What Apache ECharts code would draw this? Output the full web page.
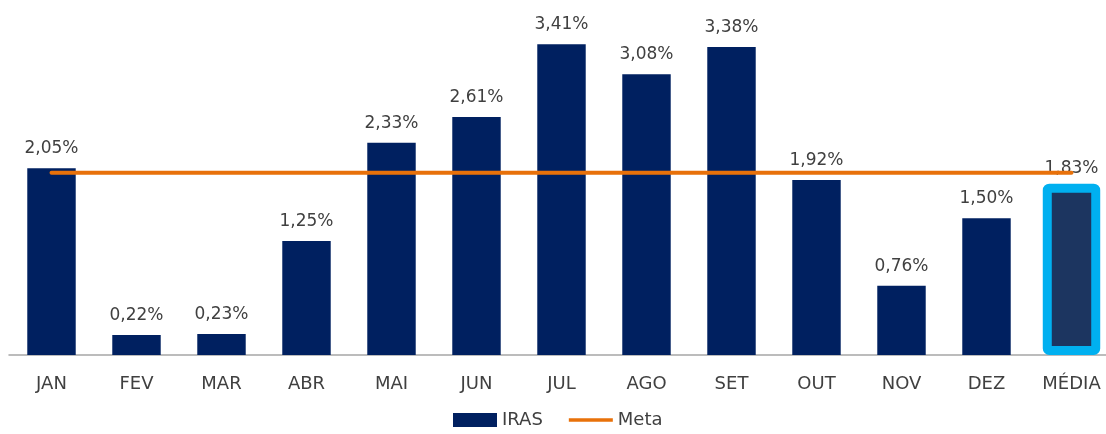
<!DOCTYPE html>
<html><head><meta charset="utf-8">
<script src="https://cdn.jsdelivr.net/npm/echarts@6/dist/echarts.min.js"></script>
<style>html,body{margin:0;padding:0;background:#fff;overflow:hidden}#c{width:1114px;height:434px}</style>
</head><body><div id="c"></div>
<script>
const categories = ['JAN','FEV','MAR','ABR','MAI','JUN','JUL','AGO','SET','OUT','NOV','DEZ','MÉDIA'];
const irasValues = [2.05,0.22,0.23,1.25,2.33,2.61,3.41,3.08,3.38,1.92,0.76,1.50,1.83];
const metaValues = [2.0,2.0,2.0,2.0,2.0,2.0,2.0,2.0,2.0,2.0,2.0,2.0,2.0];

const FONT = 'DejaVu Sans';
const TXT = '#404040';
const last = categories.length - 1;
const BAR_RATIO = 0.57;
const barData = irasValues.map((v,i)=> i===last ? {value:v,itemStyle:{color:'rgba(0,0,0,0)'}} : v);
const highlightData = [[last, irasValues[last]]];

const chart = echarts.init(document.getElementById('c'));
chart.setOption({
  animation:false,
  grid:{left:9,right:0,top:36,bottom:79,containLabel:false},
  legend:{
    bottom:0,left:448,itemGap:26,itemWidth:44,itemHeight:14,
    textStyle:{fontFamily:FONT,fontSize:18,color:TXT},
    data:[{name:'IRAS',icon:'rect'},
          {name:'Meta',icon:'path://M0,0 L0,0 M0,5 L48,5 L48,9 L0,9 Z M0,14 L0,14',itemStyle:{color:'#e8710a'}}]
  },
  xAxis:{
    type:'category',data:categories,
    axisLine:{lineStyle:{color:'#a6a6a6',width:1.5}},
    axisTick:{show:false},
    axisLabel:{fontFamily:FONT,fontSize:18,color:TXT,margin:20}
  },
  yAxis:{type:'value',min:0,max:3.5,show:false,splitLine:{show:false}},
  series:[
    {name:'IRAS',type:'bar',data:barData,barWidth:(BAR_RATIO*100)+'%',
     itemStyle:{color:'#002060'},
     label:{show:true,position:'top',distance:11,fontFamily:FONT,fontSize:17,color:TXT,
       formatter:p=>p.value.toFixed(2).replace('.',',')+'%'}},
    {name:'MÉDIA destaque',type:'custom',data:highlightData,z:4,
     renderItem:(params,api)=>{
       const base = api.coord([api.value(0),0]);
       const top = api.coord([api.value(0),api.value(1)]);
       const w = api.size([1,0])[0]*BAR_RATIO;
       const lw = 9;
       return {type:'rect',
         shape:{x:base[0]-w/2,y:top[1],width:w,height:base[1]-top[1]-lw/2,r:2},
         style:{fill:'#1c3560',stroke:'#00b0f0',lineWidth:lw}};
     }},
    {name:'Meta',type:'line',data:metaValues,symbol:'none',z:5,
     lineStyle:{color:'#e8710a',width:4,cap:'round'},itemStyle:{color:'#e8710a'}}
  ]
});
</script></body></html>
